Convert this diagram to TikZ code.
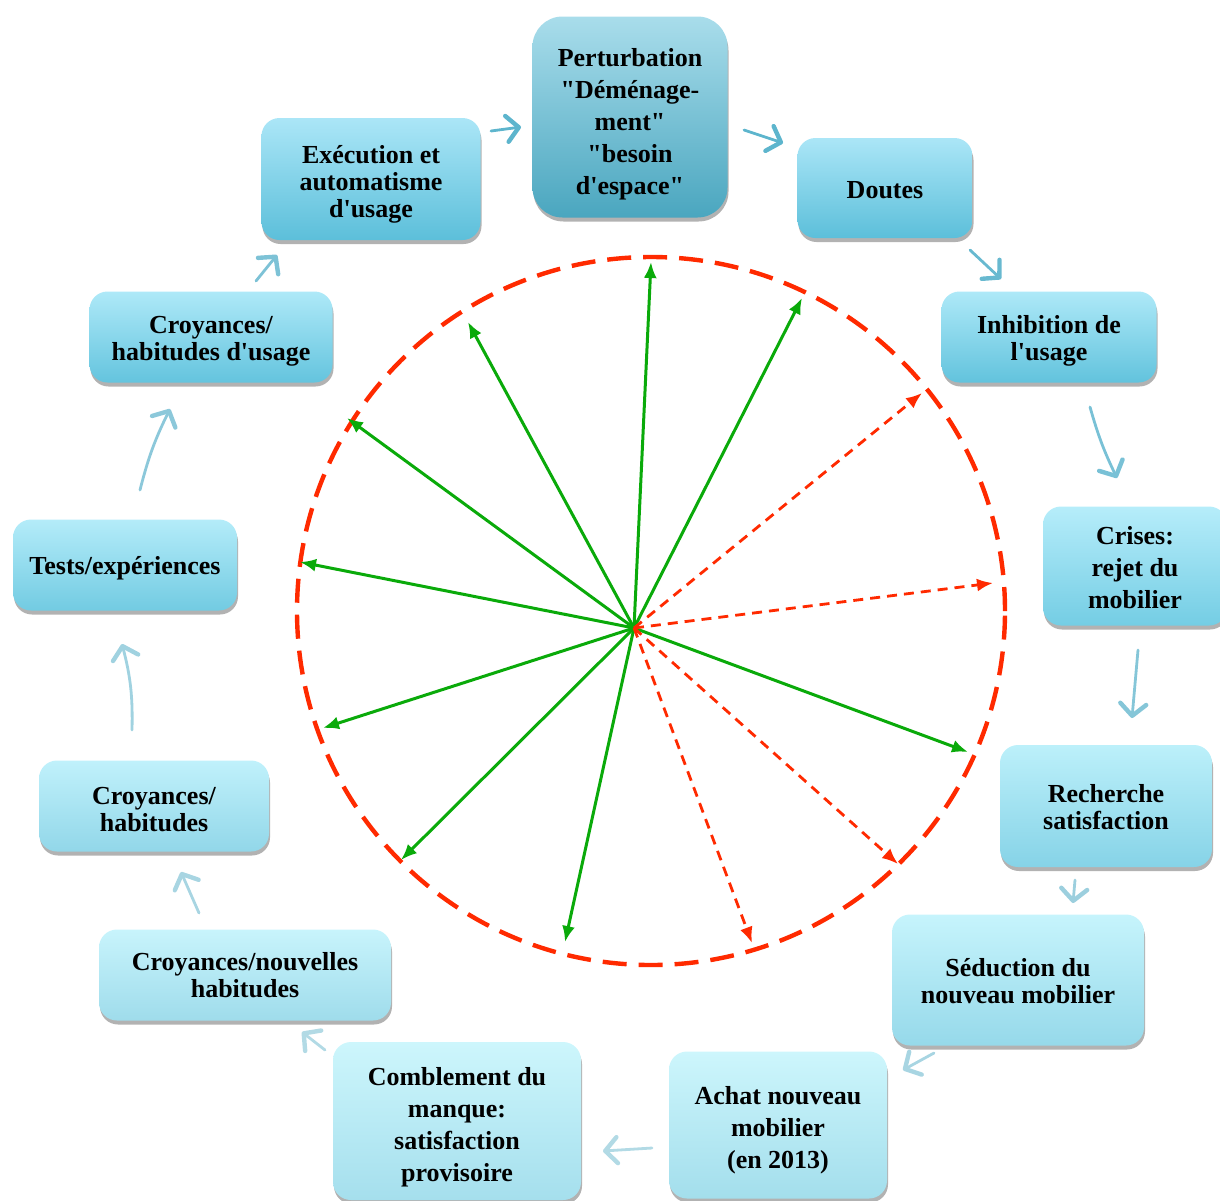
\documentclass[tikz,border=0pt]{standalone}
\usepackage{fontspec}
\setmainfont{Liberation Serif}[Ligatures=TeXOff]
\usetikzlibrary{arrows.meta,shadows}
\newcommand\tsh[1]{\rule{0pt}{#1}}
\definecolor{gr}{HTML}{0AAA0A}
\definecolor{rd}{HTML}{FF2A00}
\definecolor{t1}{HTML}{A9DDEB}\definecolor{b1}{HTML}{4AA6BF}
\definecolor{t2}{HTML}{ABE6F7}\definecolor{b2}{HTML}{5CBFDA}
\definecolor{t3}{HTML}{AEE9F8}\definecolor{b3}{HTML}{62C3DD}
\definecolor{t4}{HTML}{B6EDFA}\definecolor{b4}{HTML}{74CDE4}
\definecolor{t5}{HTML}{BCF0FA}\definecolor{b5}{HTML}{86D3E7}
\definecolor{t6}{HTML}{C6F4FC}\definecolor{b6}{HTML}{96D9EA}
\definecolor{t7}{HTML}{CDF6FC}\definecolor{b7}{HTML}{A3DEEC}
\definecolor{t8}{HTML}{CDF6FC}\definecolor{b8}{HTML}{A5DFED}
\definecolor{t9}{HTML}{C8F4FC}\definecolor{b9}{HTML}{9FDCEB}
\definecolor{t10}{HTML}{C0F1FB}\definecolor{b10}{HTML}{92D7E9}
\definecolor{t11}{HTML}{B4ECF9}\definecolor{b11}{HTML}{72CBE2}
\definecolor{t12}{HTML}{AEE9F8}\definecolor{b12}{HTML}{64C4DE}
\definecolor{t13}{HTML}{ABE6F7}\definecolor{b13}{HTML}{5CBFDA}
\definecolor{ca1}{HTML}{5DB5CD}
\definecolor{ca3}{HTML}{68B9D0}
\definecolor{ca4}{HTML}{79C1D6}
\definecolor{ca5}{HTML}{85C6D8}
\definecolor{ca6}{HTML}{9CCFDE}
\definecolor{ca7}{HTML}{A8D5E2}
\definecolor{ca8}{HTML}{B2DAE5}
\definecolor{ca11}{HTML}{A0D2E0}
\definecolor{ca12}{HTML}{8CC8DA}
\definecolor{ca13}{HTML}{7DC2D6}
\tikzset{
  bx/.style={rounded corners=9pt, inner sep=0pt, align=center,
    font=\bfseries\fontsize{13}{13.5}\selectfont,
    drop shadow={shadow xshift=0.5pt, shadow yshift=-2pt, fill=black, opacity=0.3}},
  tall/.style={font=\bfseries\fontsize{13}{16}\selectfont},
  shd/.style={top color=t#1, bottom color=b#1},
  cyc/.style={line width=1.4pt, line cap=round, draw=#1,
    -{Straight Barb[round, length=6pt, width=13pt, line width=2.2pt]}},
  ray/.style={line width=1.5pt, gr, -{Latex[length=8pt, width=6.5pt]}},
  rray/.style={line width=1.4pt, rd, dash pattern=on 5pt off 3.5pt, -{Latex[length=8pt, width=6.5pt]}}
}
\begin{document}
\begin{tikzpicture}[x=0.5pt, y=-0.5pt]
\useasboundingbox (0,0) rectangle (1220,1200);
% boxes
\node[bx, tall, rounded corners=15pt, shd=1, minimum width=97.5pt, minimum height=100.5pt] (n1) at (630,117)
  {\tsh{16pt}Perturbation\\"Déménage-\\ment"\\"besoin\\d'espace"};
\node[bx, shd=2, minimum width=87.5pt, minimum height=50pt] (n2) at (885,188) {\tsh{11pt}Doutes};
\node[bx, shd=3, minimum width=107.5pt, minimum height=45.5pt] (n3) at (1049,337) {\tsh{13pt}Inhibition de\\l'usage};
\node[bx, tall, shd=4, minimum width=92pt, minimum height=59.5pt] (n4) at (1135,566) {\tsh{11pt}Crises:\\rejet du\\mobilier};
\node[bx, shd=5, minimum width=106pt, minimum height=61pt] (n5) at (1106,806) {\tsh{10pt}Recherche\\satisfaction};
\node[bx, shd=6, minimum width=126pt, minimum height=65.5pt] (n6) at (1018,980) {\tsh{10pt}Séduction du\\nouveau mobilier};
\node[bx, tall, shd=7, minimum width=109pt, minimum height=73.5pt] (n7) at (778,1125) {\tsh{14pt}Achat nouveau\\mobilier\\(en 2013)};
\node[bx, tall, shd=8, minimum width=124pt, minimum height=79pt] (n8) at (457,1121) {\tsh{15pt}Comblement du\\manque:\\satisfaction\\provisoire};
\node[bx, shd=9, minimum width=146pt, minimum height=45.5pt] (n9) at (245,975) {Croyances/nouvelles\\habitudes};
\node[bx, shd=10, minimum width=115pt, minimum height=45.5pt] (n10) at (154,806) {\tsh{12pt}Croyances/\\habitudes};
\node[bx, shd=11, minimum width=112pt, minimum height=45.5pt] (n11) at (125,565) {\tsh{12pt}Tests/expériences};
\node[bx, shd=12, minimum width=121.5pt, minimum height=45.5pt] (n12) at (211,337) {\tsh{13pt}Croyances/\\habitudes d'usage};
\node[bx, shd=13, minimum width=109.5pt, minimum height=61pt] (n13) at (371,179) {\tsh{14.7pt}Exécution et\\automatisme\\d'usage};
% cycle connectors
\coordinate (a1s) at (491,131);  \coordinate (a1e) at (521,127);
\coordinate (a2s) at (744,130);  \coordinate (a2e) at (783,143);
\coordinate (a3s) at (970,250);  \coordinate (a3e) at (1001,279);
\coordinate (a4s) at (1090,407); \coordinate (a4e) at (1117,478);
\coordinate (a5s) at (1138,650); \coordinate (a5e) at (1132,718);
\coordinate (a6s) at (1075,880); \coordinate (a6e) at (1073,903);
\coordinate (a7s) at (934,1053); \coordinate (a7e) at (903,1070);
\coordinate (a8s) at (652,1148); \coordinate (a8e) at (603,1151);
\coordinate (a9s) at (325,1050); \coordinate (a9e) at (302,1032);
\coordinate (a10s) at (199,913); \coordinate (a10e) at (181,872);
\coordinate (a11s) at (132,730); \coordinate (a11e) at (122,644);
\coordinate (a12s) at (140,490); \coordinate (a12e) at (170,409);
\coordinate (a13s) at (256,281); \coordinate (a13e) at (277,255);
\draw[cyc=ca1] (a1s) -- (a1e);
\draw[cyc=ca1] (a2s) -- (a2e);
\draw[cyc=ca3] (a3s) -- (a3e);
\draw[cyc=ca4] (a4s) to[bend right=5] (a4e);
\draw[cyc=ca5] (a5s) -- (a5e);
\draw[cyc=ca6] (a6s) -- (a6e);
\draw[cyc=ca7] (a7s) -- (a7e);
\draw[cyc=ca8] (a8s) -- (a8e);
\draw[cyc=ca8] (a9s) -- (a9e);
\draw[cyc=ca7] (a10s) -- (a10e);
\draw[cyc=ca11] (a11s) to[bend right=8] (a11e);
\draw[cyc=ca12] (a12s) to[bend left=6] (a12e);
\draw[cyc=ca13] (a13s) -- (a13e);
% circle
\coordinate (cc) at (651,611);
\draw[rd, line width=2.2pt, dash pattern=on 12pt off 6pt] (cc) circle[radius=177pt];
% rays
\coordinate (hub) at (634,628);
\coordinate (g1) at (651,262);
\coordinate (g2) at (802,298);
\coordinate (g3) at (968,752);
\coordinate (g4) at (565,942);
\coordinate (g5) at (401,860);
\coordinate (g6) at (323,728);
\coordinate (g7) at (300,562);
\coordinate (g8) at (347,418);
\coordinate (g9) at (468,322);
\coordinate (r1) at (922,393);
\coordinate (r2) at (993,583);
\coordinate (r3) at (898,864);
\coordinate (r4) at (752,943);
\foreach \n in {g1,g2,g3,g4,g5,g6,g7,g8,g9} {\draw[ray] (hub) -- (\n);}
\foreach \n in {r1,r2,r3,r4} {\draw[rray] (hub) -- (\n);}
\end{tikzpicture}
\end{document}
